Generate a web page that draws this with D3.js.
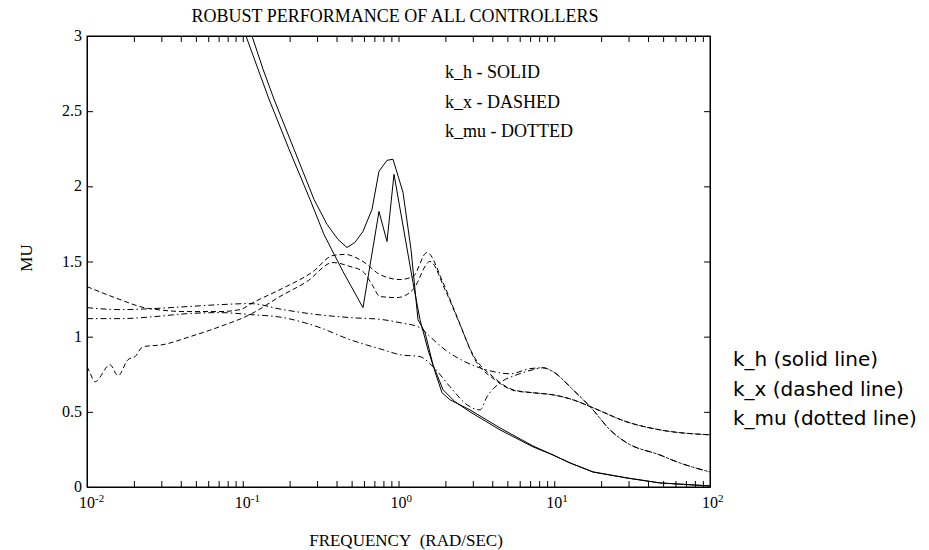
<!DOCTYPE html>
<html>
<head>
<meta charset="utf-8">
<script src="https://cdn.jsdelivr.net/npm/d3@7"></script>
<style>
  body { margin: 0; background: #fff; }
  svg { display: block; }
  .serif { font-family: "Liberation Serif", "Times New Roman", serif; fill: #000; }
  .sans { font-family: "DejaVu Sans", sans-serif; fill: #000; }
  .axis path, .axis line { stroke: #000; stroke-width: 1; }
  .curve { fill: none; stroke: #000; stroke-width: 1; }
</style>
</head>
<body>
<svg id="chart" width="929" height="550"></svg>
<script>
// [frequency (rad/sec), mu]
const khSolidA = [
  [0.1147, 3.0], [0.1349, 2.78], [0.1587, 2.58], [0.2133, 2.247], [0.2868, 1.913],
  [0.3475, 1.747], [0.4089, 1.647], [0.467, 1.593], [0.5255, 1.627], [0.5916, 1.70],
  [0.676, 1.847], [0.7494, 2.10], [0.8435, 2.173], [0.922, 2.18], [1.069, 1.96],
  [1.203, 1.58], [1.334, 1.113], [1.48, 1.027], [1.665, 0.813], [1.931, 0.647],
  [2.306, 0.567], [2.877, 0.50], [4.485, 0.38], [7.304, 0.267], [9.818, 0.213],
  [12.62, 0.16], [17.74, 0.10], [29.32, 0.06], [47.75, 0.027], [100, 0.007]
];
const khSolidB = [
  [0.1049, 3.0], [0.1253, 2.78], [0.1474, 2.58], [0.1982, 2.247], [0.2703, 1.913],
  [0.3323, 1.68], [0.4402, 1.433], [0.5916, 1.193], [0.7494, 1.833], [0.8435, 1.633],
  [0.9356, 2.08], [1.239, 1.36], [1.374, 1.113], [1.547, 0.913], [1.741, 0.747],
  [1.903, 0.627], [2.142, 0.58], [2.877, 0.513], [4.485, 0.393], [7.304, 0.273],
  [9.818, 0.213], [12.62, 0.16], [17.74, 0.10], [29.32, 0.06], [47.75, 0.027], [100, 0.007]
];
const kxDashedA = [
  [0.01, 1.333], [0.01628, 1.247], [0.02323, 1.193], [0.02814, 1.18], [0.04386, 1.167],
  [0.07143, 1.167], [0.096, 1.18], [0.1164, 1.227], [0.1734, 1.313], [0.2825, 1.433],
  [0.3797, 1.54], [0.4534, 1.547], [0.5916, 1.50], [0.7607, 1.413], [1.022, 1.38],
  [1.239, 1.40], [1.524, 1.56], [1.931, 1.36], [2.375, 1.133], [3.009, 0.88],
  [4.044, 0.733], [5.435, 0.647], [7.304, 0.627], [9.818, 0.613], [13.19, 0.58],
  [17.74, 0.527], [29.32, 0.433], [47.75, 0.38], [100, 0.347]
];
const kxDashedB = [
  [0.01, 0.80], [0.01045, 0.76], [0.01125, 0.70], [0.01405, 0.813], [0.01581, 0.74],
  [0.01833, 0.847], [0.02033, 0.867], [0.02288, 0.933], [0.03076, 0.947], [0.04585, 1.0],
  [0.07143, 1.067], [0.1113, 1.147], [0.1734, 1.267], [0.2585, 1.367], [0.3797, 1.493],
  [0.4882, 1.467], [0.5916, 1.433], [0.676, 1.347], [0.7607, 1.267], [0.9781, 1.26],
  [1.239, 1.313], [1.593, 1.50], [1.989, 1.313], [2.482, 1.08], [3.099, 0.847],
  [4.166, 0.713], [5.598, 0.64], [7.304, 0.627], [9.818, 0.613], [13.19, 0.58],
  [17.74, 0.527], [29.32, 0.433], [47.75, 0.38], [100, 0.347]
];
const kmuDottedA = [
  [0.01, 1.193], [0.01628, 1.18], [0.02693, 1.187], [0.04386, 1.20], [0.07143, 1.213],
  [0.1113, 1.22], [0.1813, 1.18], [0.2997, 1.147], [0.4882, 1.127], [0.7953, 1.113],
  [1.022, 1.093], [1.374, 1.06], [1.593, 1.0], [1.989, 0.913], [2.673, 0.833],
  [3.868, 0.773], [5.199, 0.753], [6.988, 0.787], [8.467, 0.793], [9.818, 0.767],
  [13.19, 0.647], [17.74, 0.513], [22.8, 0.38], [29.32, 0.293], [47.75, 0.213],
  [61.39, 0.167], [100, 0.10]
];
const kmuDottedB = [
  [0.01, 1.12], [0.01628, 1.12], [0.02693, 1.133], [0.04386, 1.153], [0.07143, 1.16],
  [0.1113, 1.147], [0.1813, 1.127], [0.2997, 1.067], [0.4882, 0.98], [0.7953, 0.913],
  [1.022, 0.88], [1.374, 0.867], [1.665, 0.80], [2.142, 0.667], [2.754, 0.547],
  [3.337, 0.513], [3.70, 0.60], [4.485, 0.693], [5.767, 0.747], [7.304, 0.78],
  [8.467, 0.793], [9.818, 0.767], [13.19, 0.647], [17.74, 0.513], [22.8, 0.38],
  [29.32, 0.293], [47.75, 0.213], [61.39, 0.167], [100, 0.10]
];

const decades = [-2, -1, 0, 1, 2];
const yTicks = [0, 0.5, 1, 1.5, 2, 2.5, 3];
const innerLegend = ["k_h - SOLID", "k_x - DASHED", "k_mu - DOTTED"];
const outerLegend = ["k_h (solid line)", "k_x (dashed line)", "k_mu (dotted line)"];

const margin = {top: 36, right: 219, bottom: 63, left: 87};
const width = 929 - margin.left - margin.right;
const height = 550 - margin.top - margin.bottom;

const svg = d3.select("#chart");
const g = svg.append("g").attr("transform", "translate(" + margin.left + "," + margin.top + ")");

const x = d3.scaleLog().domain([0.01, 100]).range([0, width]);
const y = d3.scaleLinear().domain([0, 3]).range([height, 0]);

// minor + major log ticks, all same length, pointing inward
const logTicks = [];
decades.slice(0, -1).forEach(function(e) {
  for (let m = 1; m < 10; m++) logTicks.push(m * Math.pow(10, e));
});
logTicks.push(100);

g.append("g").attr("class", "axis")
  .attr("transform", "translate(0," + height + ")")
  .call(d3.axisBottom(x).tickValues(logTicks).tickSize(-6).tickSizeOuter(0).tickFormat(""));
g.append("g").attr("class", "axis")
  .call(d3.axisTop(x).tickValues(logTicks).tickSize(-6).tickSizeOuter(0).tickFormat(""));
g.append("g").attr("class", "axis")
  .call(d3.axisLeft(y).tickValues(yTicks).tickSize(-6).tickSizeOuter(0).tickFormat(""));
g.append("g").attr("class", "axis")
  .attr("transform", "translate(" + width + ",0)")
  .call(d3.axisRight(y).tickValues(yTicks).tickSize(-6).tickSizeOuter(0).tickFormat(""));

// x labels 10^n
const xl = g.selectAll(".xlab").data(decades).enter().append("text")
  .attr("class", "serif xlab")
  .attr("x", function(d) { return x(Math.pow(10, d)) - 8; })
  .attr("y", height + 21)
  .style("font-size", "16px")
  .text("10");
xl.append("tspan").attr("dy", -6).style("font-size", "11px").text(function(d) { return d; });

g.selectAll(".ylab").data(yTicks).enter().append("text")
  .attr("class", "serif ylab")
  .attr("x", -5)
  .attr("y", function(d) { return y(d) + 5; })
  .attr("text-anchor", "end")
  .style("font-size", "16px")
  .text(function(d) { return d; });

// curves
g.append("clipPath").attr("id", "clip").append("rect")
  .attr("width", width).attr("height", height);

const lineLin = d3.line()
  .x(function(d) { return x(d[0]); })
  .y(function(d) { return y(d[1]); });
const lineSmooth = d3.line()
  .x(function(d) { return x(d[0]); })
  .y(function(d) { return y(d[1]); })
  .curve(d3.curveMonotoneX);

const series = [
  {data: khSolidA, line: lineLin, dash: null},
  {data: khSolidB, line: lineLin, dash: null},
  {data: kxDashedA, line: lineSmooth, dash: "5,3"},
  {data: kxDashedB, line: lineSmooth, dash: "5,3"},
  {data: kmuDottedA, line: lineSmooth, dash: "6,3,1.5,3"},
  {data: kmuDottedB, line: lineSmooth, dash: "6,3,1.5,3"}
];
const plot = g.append("g").attr("clip-path", "url(#clip)");
series.forEach(function(s) {
  plot.append("path").attr("class", "curve")
    .attr("d", s.line(s.data))
    .attr("stroke-dasharray", s.dash);
});

// frame
g.append("rect").attr("width", width).attr("height", height)
  .attr("fill", "none").attr("stroke", "#000");

// texts
svg.append("text").attr("class", "serif")
  .attr("x", 395).attr("y", 22).attr("text-anchor", "middle")
  .style("font-size", "18px")
  .text("ROBUST PERFORMANCE OF ALL CONTROLLERS");
svg.append("text").attr("class", "serif")
  .attr("x", 406).attr("y", 546).attr("text-anchor", "middle")
  .style("font-size", "17px")
  .text("FREQUENCY\u00a0\u00a0(RAD/SEC)");
svg.append("text").attr("class", "serif")
  .attr("transform", "translate(32,258) rotate(-90)")
  .attr("text-anchor", "middle")
  .style("font-size", "17px")
  .text("MU");

svg.selectAll(".inleg").data(innerLegend).enter().append("text")
  .attr("class", "serif inleg")
  .attr("x", 445)
  .attr("y", function(d, i) { return 78 + i * 29.5; })
  .style("font-size", "18px")
  .text(function(d) { return d; });

svg.selectAll(".outleg").data(outerLegend).enter().append("text")
  .attr("class", "sans outleg")
  .attr("x", 733)
  .attr("y", function(d, i) { return 366 + i * 29.5; })
  .style("font-size", "20px")
  .text(function(d) { return d; });
</script>
</body>
</html>
